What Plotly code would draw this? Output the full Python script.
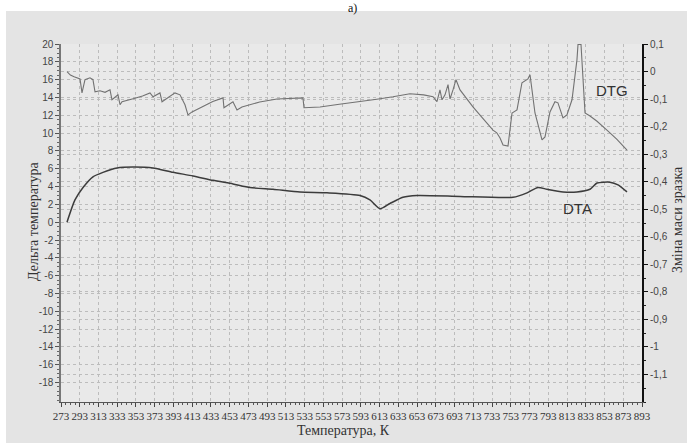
import plotly.graph_objects as go

# ---- data ----
dtg_T = [279.4, 283.0, 287.0, 293.3, 295.4, 298.6, 303.9, 307.1, 309.3, 314.6, 320.0, 325.3, 327.4, 333.8, 336.0, 338.1,
         350.0, 360.0, 368.0, 371.2, 378.6, 380.8, 394.6, 400.0, 405.3, 408.5, 412.8, 425.0, 435.0, 445.9, 446.9, 456.5, 460.8,
         466.1, 485.0, 503.5, 531.2, 532.3, 549.4, 570.0, 592.1, 610.0, 627.3, 645.4, 660.0, 670.0, 674.2, 677.4, 679.6, 682.8,
         686.0, 688.1, 691.3, 694.5, 698.8, 712.6, 722.0, 734.0, 738.0, 741.5, 744.7, 750.0, 754.3, 759.6, 764.9,
         771.3, 773.5, 775.6, 778.8, 786.3, 789.5, 794.8, 800.1, 803.3, 808.7, 812.9, 818.3, 823.6,
         824.7, 827.9, 832.2, 837.5, 845.0, 855.6, 866.0, 877.0]
dtg_val = [0.0, -0.012, -0.018, -0.026, -0.077, -0.029, -0.022, -0.029, -0.073, -0.069, -0.075, -0.066, -0.102, -0.084, -0.120, -0.109,
           -0.098, -0.088, -0.077, -0.091, -0.077, -0.109, -0.077, -0.084, -0.120, -0.157, -0.146, -0.124, -0.108, -0.095, -0.131, -0.109, -0.139,
           -0.128, -0.110, -0.099, -0.095, -0.131, -0.128, -0.118, -0.109, -0.100, -0.091, -0.080, -0.084, -0.091, -0.109, -0.066, -0.102, -0.084,
           -0.047, -0.099, -0.066, -0.029, -0.066, -0.128, -0.165, -0.212, -0.222, -0.241, -0.266, -0.270, -0.150, -0.139, -0.040,
           -0.026, -0.011, -0.066, -0.150, -0.248, -0.237, -0.146, -0.109, -0.113, -0.168, -0.157, -0.102, 0.044,
           0.099, 0.099, -0.150, -0.161, -0.180, -0.212, -0.245, -0.285]

dta_T = [279.4, 287.9, 296.5, 307.1, 317.8, 332.8, 349.8, 371.2, 392.5, 413.9, 435.2, 456.5, 474.7, 499.2,
         528.0, 556.9, 592.1, 602.7, 613.4, 624.1, 637.9, 652.9, 698.8, 755.3, 770.3, 782.0, 791.6, 808.7,
         823.6, 837.5, 845.0, 858.8, 867.4, 877.0]
dta_val = [0.0, 2.5, 3.9, 5.1, 5.6, 6.1, 6.2, 6.1, 5.6, 5.2, 4.7, 4.3, 3.9, 3.7,
           3.4, 3.3, 3.0, 2.5, 1.5, 2.1, 2.8, 3.0, 2.9, 2.8, 3.3, 3.9, 3.7, 3.4,
           3.4, 3.7, 4.4, 4.5, 4.2, 3.4]

x_ticks = list(range(273, 894, 20))
left_ticks = list(range(20, -19, -2))
right_ticks = [0.1, 0, -0.1, -0.2, -0.3, -0.4, -0.5, -0.6, -0.7, -0.8, -0.9, -1.0, -1.1]
right_text = ["0,1", "0", "-0,1", "-0,2", "-0,3", "-0,4", "-0,5", "-0,6", "-0,7", "-0,8", "-0,9", "-1", "-1,1"]

# ---- figure ----
fig = go.Figure()
fig.add_trace(go.Scatter(x=dta_T, y=dta_val, mode="lines", line=dict(color="#3c3c3c", width=1.5, shape="spline", smoothing=0.6),
                         yaxis="y", showlegend=False, hoverinfo="skip"))
fig.add_trace(go.Scatter(x=dtg_T, y=dtg_val, mode="lines", line=dict(color="#727272", width=1.1),
                         yaxis="y2", showlegend=False, hoverinfo="skip"))

W, H = 687, 446
L, R, T, B = 61, 642, 44, 402
def px(xp):
    return (xp - L) / (R - L)
def py(yp):
    return (B - yp) / (B - T)

grid = dict(showgrid=True, gridcolor="#bcbcbc", gridwidth=1, griddash="3px,3px", zeroline=False)
sans = "Liberation Sans, Arial, sans-serif"
serif = "Liberation Serif, Times New Roman, serif"

fig.update_layout(
    width=W, height=H,
    margin=dict(l=L, r=W - R, t=T, b=H - B),
    paper_bgcolor="#e4e4e4", plot_bgcolor="#e9e9e9",
    showlegend=False,
    xaxis=dict(range=[273, 893], tickmode="array", tickvals=x_ticks, ticktext=[str(v) for v in x_ticks],
               tickangle=0, ticks="outside", ticklen=4, tickcolor="#444", showline=True, linecolor="#555", linewidth=1,
               tickfont=dict(family=serif, size=11, color="#333"),
               minor=dict(dtick=5, tick0=273, ticks="outside", ticklen=2, tickcolor="#555", showgrid=False),
               **grid),
    yaxis=dict(range=[-20.2, 20.02], tickmode="array", tickvals=left_ticks,
               ticktext=[str(v) for v in left_ticks],
               ticks="outside", ticklen=4, tickcolor="#555", showline=True, linecolor="#777", linewidth=1.5,
               tickfont=dict(family=sans, size=10, color="#444"),
               minor=dict(dtick=0.5, tick0=0, ticks="outside", ticklen=2, tickcolor="#666", showgrid=False),
               **grid),
    yaxis2=dict(range=[-1.2, 0.1007], overlaying="y", side="right", tickmode="array", tickvals=right_ticks, ticktext=right_text,
                ticks="outside", ticklen=4, tickcolor="#111", showline=True, linecolor="#111", linewidth=2,
                tickfont=dict(family=sans, size=10, color="#444"),
                minor=dict(dtick=0.05, tick0=0, ticks="outside", ticklen=2, tickcolor="#222", showgrid=False),
                **grid),
    shapes=[
        dict(type="rect", xref="paper", yref="paper", x0=px(-5), x1=px(700), y0=py(11), y1=py(-5),
             fillcolor="white", line=dict(width=0), layer="below"),
        dict(type="rect", xref="paper", yref="paper", x0=px(-5), x1=px(6), y0=py(450), y1=py(-5),
             fillcolor="white", line=dict(width=0), layer="below"),
        dict(type="rect", xref="paper", yref="paper", x0=px(-5), x1=px(700), y0=py(450), y1=py(443),
             fillcolor="white", line=dict(width=0), layer="below"),
    ],
    annotations=[
        dict(text="а)", xref="paper", yref="paper", x=px(352), y=py(-1), xanchor="center", yanchor="top",
             showarrow=False, font=dict(family=serif, size=12, color="#111")),
        dict(text="Температура, К", xref="paper", yref="paper", x=px(343), y=py(430), xanchor="center", yanchor="middle",
             showarrow=False, font=dict(family=serif, size=14, color="#333")),
        dict(text="Дельта температура", xref="paper", yref="paper", x=px(33), y=py(222), xanchor="center", yanchor="middle",
             textangle=-90, showarrow=False, font=dict(family=serif, size=14, color="#333")),
        dict(text="Зміна маси зразка", xref="paper", yref="paper", x=px(677), y=py(220), xanchor="center", yanchor="middle",
             textangle=-90, showarrow=False, font=dict(family=serif, size=14, color="#333")),
        dict(text="DTG", xref="paper", yref="paper", x=px(612), y=py(91), xanchor="center", yanchor="middle",
             showarrow=False, font=dict(family=sans, size=15, color="#333")),
        dict(text="DTA", xref="paper", yref="paper", x=px(577), y=py(208.5), xanchor="center", yanchor="middle",
             showarrow=False, font=dict(family=sans, size=15, color="#333")),
    ],
)

fig.write_html("out.html")
